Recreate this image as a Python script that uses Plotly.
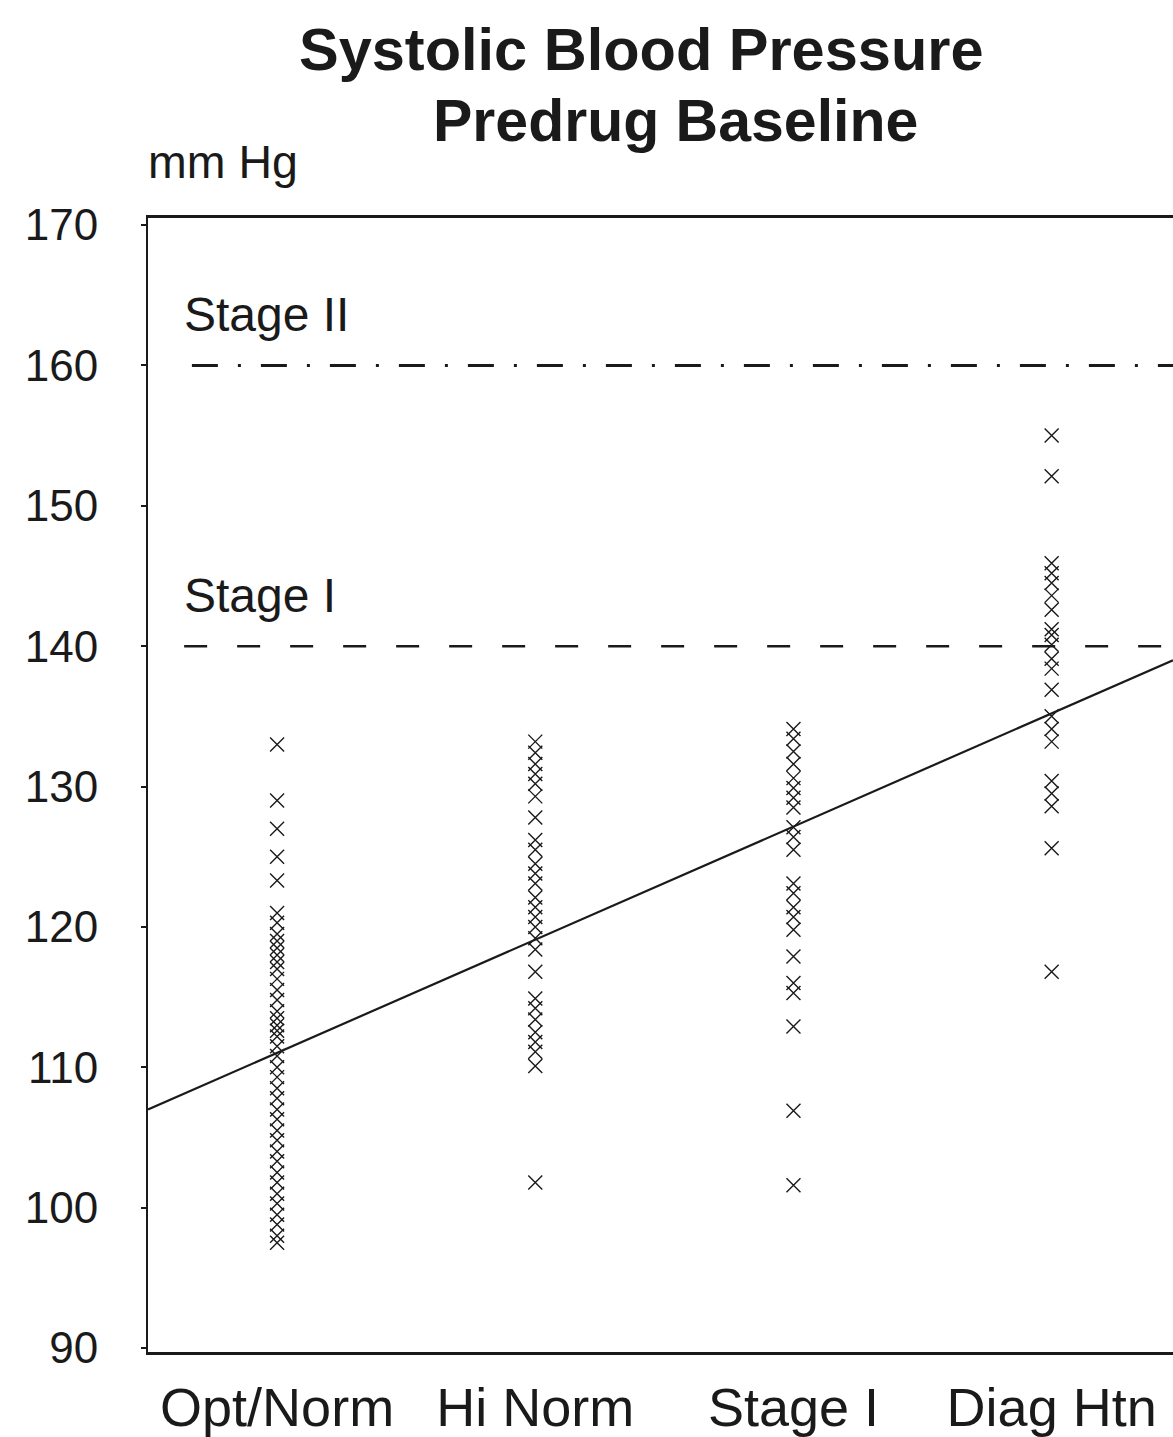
import plotly.graph_objects as go

categories = ["Opt/Norm", "Hi Norm", "Stage I", "Diag Htn"]

opt_norm = [133.0, 129.0, 127.0, 125.0, 123.3, 121.0, 120.3, 119.5, 119.0, 118.5,
            118.0, 117.5, 117.0, 116.3, 115.5, 114.8, 114.0, 113.5, 113.0, 112.6,
            112.2, 111.5, 110.8, 110.0, 109.3, 108.5, 107.8, 107.0, 106.3, 105.5,
            104.8, 104.0, 103.3, 102.5, 101.8, 101.0, 100.3, 99.5, 98.8, 98.0, 97.5]
hi_norm = [133.2, 132.4, 131.6, 130.9, 130.2, 129.3, 127.8, 126.2, 125.5, 124.5,
           123.8, 123.1, 122.1, 121.4, 120.7, 120.0, 119.2, 118.4, 116.8, 114.9,
           114.2, 113.4, 112.5, 111.8, 111.1, 110.1, 101.8]
stage_1 = [134.1, 133.4, 132.5, 131.6, 130.6, 129.9, 129.2, 128.5, 127.1, 126.4,
           125.5, 123.1, 122.4, 121.4, 120.7, 119.8, 117.9, 116.0, 115.3, 112.9,
           106.9, 101.6]
diag_htn = [155.0, 152.1, 145.9, 145.2, 144.5, 143.6, 142.6, 141.2, 140.8, 140.1,
            139.1, 138.4, 136.9, 135.0, 134.1, 133.2, 130.4, 129.5, 128.6, 125.6,
            116.8]
series = [opt_norm, hi_norm, stage_1, diag_htn]

fit_x = [-0.5, 3.47]
fit_y = [107.0, 139.0]

stage_levels = [160, 140]
stage_labels = ["Stage II", "Stage I"]

y_ticks = [90, 100, 110, 120, 130, 140, 150, 160, 170]

FONT = "Liberation Sans, Arial, Helvetica, sans-serif"
INK = "#1a1a1a"

W, H = 1173, 1437
ML, MR, MT, MB = 148, 0, 218, 77
pw, ph = W - ML - MR, H - MT - MB

fig = go.Figure()

for i, vals in enumerate(series):
    fig.add_trace(go.Scatter(
        x=[i] * len(vals), y=vals, mode="markers",
        marker=dict(symbol="x-thin", size=14, color=INK,
                    line=dict(width=1.4, color=INK)),
        showlegend=False, hoverinfo="y"))

fig.add_trace(go.Scatter(x=fit_x, y=fit_y, mode="lines",
                         line=dict(color=INK, width=2.2),
                         showlegend=False, hoverinfo="skip"))

# stage reference lines
fig.add_shape(type="line", xref="x", yref="y", x0=-0.33, x1=3.47,
              y0=stage_levels[0], y1=stage_levels[0],
              line=dict(color=INK, width=3, dash="26px,20px,3px,20px"))
fig.add_shape(type="line", xref="x", yref="y", x0=-0.36, x1=3.47,
              y0=stage_levels[1], y1=stage_levels[1],
              line=dict(color=INK, width=2.5, dash="23px,30px"))

for lvl, lab in zip(stage_levels, stage_labels):
    fig.add_annotation(x=-0.37, y=lvl + 3.6, xref="x", yref="y", text=lab,
                       showarrow=False, xanchor="left", yanchor="middle",
                       font=dict(family=FONT, size=48, color=INK))


def px_ann(text, px, py, size, xanchor="center"):
    fig.add_annotation(text=text, xref="paper", yref="paper",
                       x=(px - ML) / pw, y=(H - MB - py) / ph,
                       xanchor=xanchor, yanchor="middle", showarrow=False,
                       font=dict(family=FONT, size=size, color=INK))


px_ann("<b>Systolic Blood Pressure</b>", 641, 48, 59.5)
px_ann("<b>Predrug Baseline</b>", 675, 120, 59)
px_ann("mm Hg", 146, 162, 46.5, xanchor="left")

fig.update_layout(
    width=W, height=H,
    margin=dict(l=ML, r=MR, t=MT, b=MB, pad=0),
    paper_bgcolor="white", plot_bgcolor="white",
    font=dict(family=FONT, color=INK),
    xaxis=dict(range=[-0.5, 3.47], tickvals=[0, 1, 2, 3], ticktext=categories,
               showgrid=False, zeroline=False, showline=True, mirror=True,
               linecolor=INK, linewidth=2.5, ticks="",
               tickfont=dict(family=FONT, size=54, color=INK),
               ticklabelstandoff=6),
    yaxis=dict(range=[89.72, 170.5], tickvals=y_ticks,
               showgrid=False, zeroline=False, showline=True,
               linecolor=INK, linewidth=2, ticks="outside", ticklen=5,
               tickcolor=INK, tickwidth=2,
               tickfont=dict(family=FONT, size=44, color=INK),
               ticklabelstandoff=34),
)

fig.write_html("out.html")
